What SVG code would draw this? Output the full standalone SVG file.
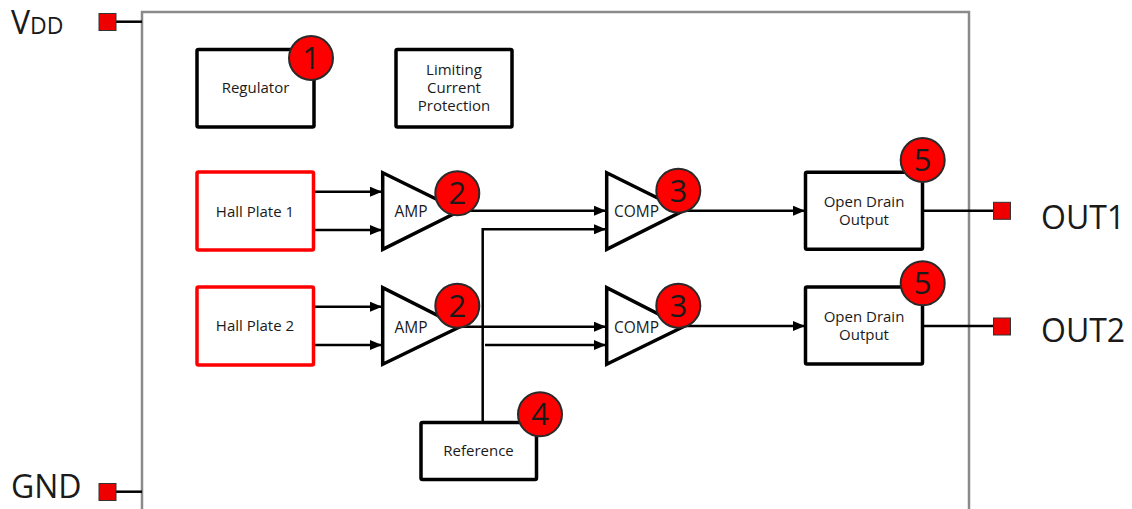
<svg xmlns="http://www.w3.org/2000/svg" width="1132" height="509" viewBox="0 0 1132 509">
<defs>
<marker id="arr" markerWidth="12" markerHeight="10" refX="12" refY="5" orient="auto" markerUnits="userSpaceOnUse">
<path d="M0,0 L12,5 L0,10 Z" fill="#000"/>
</marker>
<style>
.t{font-family:"Open Sans","Noto Sans","Liberation Sans",sans-serif;fill:#1a1a1a;text-anchor:middle}
.s{font-size:15px}
.m{font-size:15.5px}
.box{fill:#fff;stroke:#000;stroke-width:3.5}
.hall{fill:#fff;stroke:#ff0000;stroke-width:3.5}
.tri{fill:#fff;stroke:#000;stroke-width:3.5;stroke-linejoin:miter}
.badge{fill:#ff0000;stroke:#2a2a2a;stroke-width:2}
.bn{font-size:31px}
.w{stroke:#000;stroke-width:2.5;fill:none}
.wa{stroke:#000;stroke-width:2.5;fill:none;marker-end:url(#arr)}
.pad{fill:#ee0000;stroke:#333;stroke-width:1}
.big{font-family:"Open Sans","Noto Sans","Liberation Sans",sans-serif;fill:#1a1a1a;font-size:32px}
</style>
</defs>
<rect width="1132" height="509" fill="#fff"/>
<g id="chip">
<rect x="142" y="12" width="827" height="520" fill="none" stroke="#8a8a8a" stroke-width="2.5"/>
</g>
<g id="connectors">
<line class="w" x1="116" y1="21.7" x2="142" y2="21.7"/>
<line class="w" x1="116" y1="491.7" x2="142" y2="491.7"/>
<line class="wa" x1="314" y1="191.7" x2="382" y2="191.7"/>
<line class="wa" x1="314" y1="230" x2="382" y2="230"/>
<line class="wa" x1="314" y1="306.7" x2="382" y2="306.7"/>
<line class="wa" x1="314" y1="345" x2="382" y2="345"/>
<line class="wa" x1="460" y1="210.7" x2="606" y2="210.7"/>
<line class="wa" x1="460" y1="326.7" x2="606" y2="326.7"/>
<polyline class="wa" points="482.7,422 482.7,229.3 606,229.3"/>
<line class="wa" x1="485" y1="345" x2="606" y2="345"/>
<line class="wa" x1="683" y1="210.7" x2="805" y2="210.7"/>
<line class="wa" x1="683" y1="326" x2="805" y2="326"/>
<line class="w" x1="923" y1="210.7" x2="994" y2="210.7"/>
<line class="w" x1="923" y1="326" x2="994" y2="326"/>
</g>
<g id="vdd">
<rect class="pad" x="99" y="13.5" width="17" height="17"/>
<text x="11" y="34" class="big" font-size="32">V<tspan font-size="23">DD</tspan></text>
</g>
<g id="gnd">
<rect class="pad" x="99" y="483.5" width="17" height="17"/>
<text x="11" y="497.5" class="big" font-size="31">GND</text>
</g>
<g id="out1">
<rect class="pad" x="993.5" y="202.3" width="17" height="17"/>
<text x="1041" y="228.5" class="big">OUT1</text>
</g>
<g id="out2">
<rect class="pad" x="993.5" y="318" width="17" height="17"/>
<text x="1041" y="341.7" class="big">OUT2</text>
</g>
<g id="regulator">
<rect class="box" x="197" y="49.5" width="117" height="77.5" rx="1.5"/>
<text class="t s" x="255.5" y="93">Regulator</text>
<circle class="badge" cx="311" cy="58" r="22"/>
<text class="t bn" x="311" y="69">1</text>
</g>
<g id="limiting">
<rect class="box" x="396" y="49.5" width="116" height="77.5" rx="1.5"/>
<text class="t s" x="454" y="75">Limiting</text>
<text class="t s" x="454" y="93">Current</text>
<text class="t s" x="454" y="111">Protection</text>
</g>
<g id="hall1">
<rect class="hall" x="197" y="172" width="116.5" height="78" rx="1.5"/>
<text class="t s" x="255" y="216.5">Hall Plate 1</text>
</g>
<g id="hall2">
<rect class="hall" x="197" y="287" width="116.5" height="78" rx="1.5"/>
<text class="t s" x="255" y="331">Hall Plate 2</text>
</g>
<g id="amp1">
<polygon class="tri" points="382.7,172.7 382.7,249.3 460,210.7"/>
<text class="t m" x="411" y="217">AMP</text>
<circle class="badge" cx="457.3" cy="193.3" r="22"/>
<text class="t bn" x="457.3" y="204.3">2</text>
</g>
<g id="amp2">
<polygon class="tri" points="382.7,287.7 382.7,364.3 460,326.7"/>
<text class="t m" x="411" y="332.5">AMP</text>
<circle class="badge" cx="457.3" cy="305.7" r="22"/>
<text class="t bn" x="457.3" y="316.7">2</text>
</g>
<g id="comp1">
<polygon class="tri" points="606.7,172.7 606.7,249.3 683.3,210.7"/>
<text class="t m" x="636.5" y="217">COMP</text>
<circle class="badge" cx="678.3" cy="190.7" r="22"/>
<text class="t bn" x="678.3" y="201.7">3</text>
</g>
<g id="comp2">
<polygon class="tri" points="606.7,287.7 606.7,364.3 683.3,326.7"/>
<text class="t m" x="636.5" y="332.5">COMP</text>
<circle class="badge" cx="678.3" cy="305.7" r="22"/>
<text class="t bn" x="678.3" y="316.7">3</text>
</g>
<g id="reference">
<rect class="box" x="421" y="422.5" width="115.5" height="57" rx="1.5"/>
<text class="t s" x="478.5" y="456">Reference</text>
<circle class="badge" cx="540" cy="414.3" r="22"/>
<text class="t bn" x="540" y="425.3">4</text>
</g>
<g id="od1">
<rect class="box" x="805.5" y="172.3" width="117" height="77" rx="1.5"/>
<text class="t s" x="864" y="207">Open Drain</text>
<text class="t s" x="864" y="225">Output</text>
<circle class="badge" cx="922.7" cy="160" r="22"/>
<text class="t bn" x="922.7" y="171">5</text>
</g>
<g id="od2">
<rect class="box" x="805.5" y="287" width="117" height="77" rx="1.5"/>
<text class="t s" x="864" y="322">Open Drain</text>
<text class="t s" x="864" y="340">Output</text>
<circle class="badge" cx="922.7" cy="283.3" r="22"/>
<text class="t bn" x="922.7" y="294.3">5</text>
</g>
</svg>
